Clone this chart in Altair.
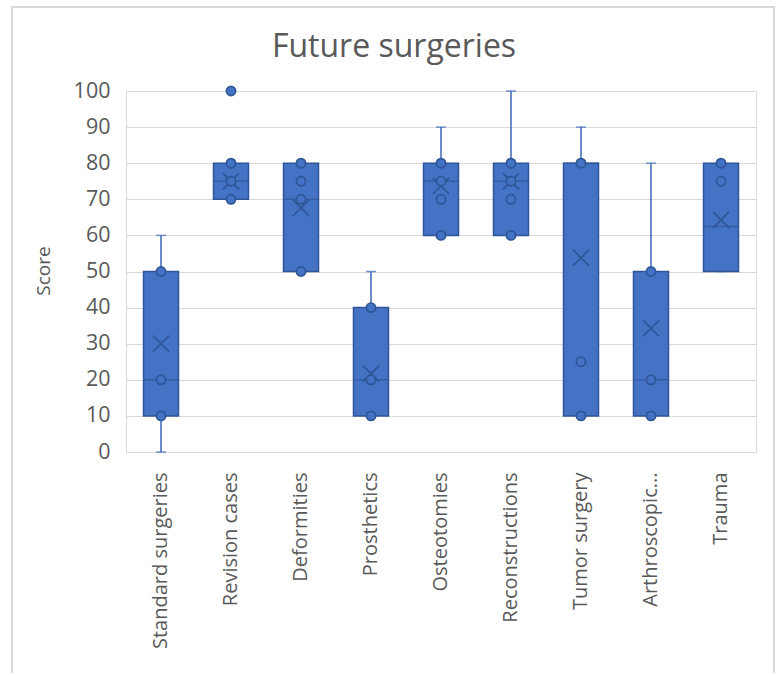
import altair as alt
import pandas as pd

categories = ["Standard surgeries", "Revision cases", "Deformities", "Prosthetics",
              "Osteotomies", "Reconstructions", "Tumor surgery", "Arthroscopic...", "Trauma"]
whisker_low = [0, 70, 50, 10, 60, 60, 10, 10, 50]
q1 = [10, 70, 50, 10, 60, 60, 10, 10, 50]
median = [20, 75, 70, 20, 75, 75, 80, 20, 62.5]
q3 = [50, 80, 80, 40, 80, 80, 80, 50, 80]
whisker_high = [60, 80, 80, 50, 90, 100, 90, 80, 80]
mean = [30, 75, 67.6, 21.7, 73.7, 75, 53.8, 34.3, 64.3]

inner_points = {
    "Standard surgeries": [10, 20, 50],
    "Revision cases": [70, 75, 80],
    "Deformities": [50, 70, 75, 80],
    "Prosthetics": [10, 20, 40],
    "Osteotomies": [60, 70, 75, 80],
    "Reconstructions": [60, 70, 75, 80],
    "Tumor surgery": [10, 25, 80],
    "Arthroscopic...": [10, 20, 50],
    "Trauma": [75, 80],
}
outliers = {"Revision cases": [100]}
y_ticks = [0, 10, 20, 30, 40, 50, 60, 70, 80, 90, 100]
title_text = ["Future surgeries"]
y_title = ["Score"]

FILL = "#4472C4"
DARK = "#2F5597"
WHISK = "#3B66B5"
TEXT = "#595959"
GRID = "#D9D9D9"
FONT = "Open Sans"

summary = pd.DataFrame({
    "cat": categories, "lo": whisker_low, "q1": q1, "med": median,
    "q3": q3, "hi": whisker_high, "mean": mean,
})
pts = pd.DataFrame([(c, v) for c, vs in inner_points.items() for v in vs], columns=["cat", "v"])
outs = pd.DataFrame([(c, v) for c, vs in outliers.items() for v in vs], columns=["cat", "v"])

xaxis = alt.Axis(labelAngle=-90, labelFontSize=20, labelColor=TEXT,
                 labelFont=FONT, ticks=False, labelPadding=20,
                 domainColor=GRID, domainWidth=1, labelLimit=300)
xscale = alt.Scale(paddingInner=0.5, paddingOuter=0.25)
yscale = alt.Scale(domain=[0, 100], nice=False, zero=True)
yaxis = alt.Axis(values=y_ticks, labelFontSize=21.5, labelColor=TEXT,
                 labelFont=FONT, ticks=False, labelPadding=16, labelOverlap=False,
                 domainColor=GRID, gridColor=GRID, gridWidth=1, title=None)


def X():
    return alt.X("cat:N", sort=categories, title=None, scale=xscale, axis=xaxis)


def Y(field):
    return alt.Y(field, scale=yscale, axis=yaxis, title=None)


base = alt.Chart(summary)

whisker = base.mark_rule(color=WHISK, strokeWidth=1.5).encode(
    x=X(), y=Y("lo:Q"), y2="hi:Q")
caps_hi = base.mark_tick(color=WHISK, thickness=1.5, size=10).encode(
    x=X(), y=Y("hi:Q"))
caps_lo = base.mark_tick(color=WHISK, thickness=1.5, size=10).encode(
    x=X(), y=Y("lo:Q"))
box = base.mark_bar(size=35, fill=FILL, stroke=DARK, strokeWidth=1.5).encode(
    x=X(), y=Y("q1:Q"), y2="q3:Q")
med = base.mark_tick(color=DARK, thickness=1.5, size=35).encode(
    x=X(), y=Y("med:Q"))
meanm = base.mark_point(shape="M-1,-1L1,1M1,-1L-1,1", size=260, stroke=DARK,
                        strokeWidth=1.6, filled=False, opacity=1).encode(
    x=X(), y=Y("mean:Q"))
inner = alt.Chart(pts).mark_point(shape="circle", size=85, fill=FILL, stroke=DARK,
                                  strokeWidth=1.7, filled=False, opacity=1).encode(
    x=X(), y=Y("v:Q"))
outer = alt.Chart(outs).mark_point(shape="circle", size=85, fill=FILL, stroke=DARK,
                                   strokeWidth=1.7, filled=True, opacity=1).encode(
    x=X(), y=Y("v:Q"))
border = alt.Chart(pd.DataFrame({"a": [0]})).mark_rect(
    fill=None, stroke=GRID, strokeWidth=2).encode(
    x=alt.value(-114), x2=alt.value(648), y=alt.value(-84), y2=alt.value(600))
title = alt.Chart(pd.DataFrame({"t": title_text})).mark_text(
    font=FONT, fontSize=32, color=TEXT, align="center", baseline="alphabetic").encode(
    text="t:N", x=alt.value(268), y=alt.value(-34))
ytitle = alt.Chart(pd.DataFrame({"t": y_title})).mark_text(
    font=FONT, fontSize=19, color=TEXT, align="center", baseline="middle", angle=270).encode(
    text="t:N", x=alt.value(-82), y=alt.value(180))

chart = alt.layer(whisker, caps_hi, caps_lo, box, med, meanm, inner, outer,
                  border, title, ytitle).properties(
    width=630, height=361,
    autosize=alt.AutoSizeParams(type="none"),
    padding={"left": 126, "top": 91, "right": 21, "bottom": 221},
).configure_view(stroke=None).configure(background="white").configure_axisY(
    labelFontSize=21.5, labelOverlap=False, labelColor=TEXT, labelFont=FONT)

chart.save("out.html", embed_options={"renderer": "svg", "actions": False})
